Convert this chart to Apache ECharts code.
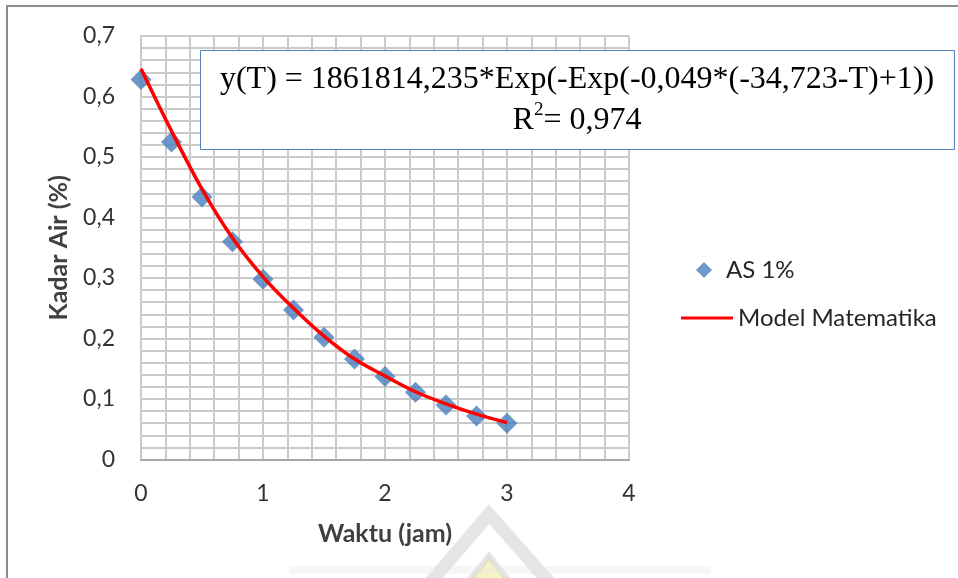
<!DOCTYPE html>
<html>
<head>
<meta charset="utf-8">
<script src="https://cdn.jsdelivr.net/npm/echarts@6/dist/echarts.min.js"></script>
<style>
  html, body { margin: 0; padding: 0; background: #ffffff; }
  #chart { width: 958px; height: 578px; }
</style>
</head>
<body>
<div id="chart"></div>
<script>
// Drying time (hours)
var waktuJam = [0, 0.25, 0.5, 0.75, 1, 1.25, 1.5, 1.75, 2, 2.25, 2.5, 2.75, 3];
// Measured moisture content, AS 1%
var kadarAirAS1 = [0.628, 0.525, 0.434, 0.360, 0.298, 0.247, 0.202, 0.166, 0.137, 0.111, 0.090, 0.072, 0.060];
// Fitted model curve
var modelMatematika = [0.646, 0.543, 0.447, 0.366, 0.302, 0.250, 0.204, 0.166, 0.138, 0.112, 0.092, 0.075, 0.061];

var xTicks = [0, 1, 2, 3, 4];
var yTicks = [0, 0.1, 0.2, 0.3, 0.4, 0.5, 0.6, 0.7];

var equationText = 'y(T) = 1861814,235*Exp(-Exp(-0,049*(-34,723-T)+1))';
var r2Value = '0,974';

function pairs(xs, ys) {
  return xs.map(function (x, i) { return [x, ys[i]]; });
}

var labelFont = 'Lato, "Open Sans", sans-serif';
var serifFont = '"Liberation Serif", "DejaVu Serif", serif';
var gridColor = '#cacaca';
var markerBlue = '#4a7ebb';
var modelRed = '#ff0000';

var chart = echarts.init(document.getElementById('chart'), null, { renderer: 'canvas' });

chart.setOption({
  backgroundColor: '#ffffff',
  animation: false,
  grid: { left: 141, top: 36, right: 329, bottom: 118.5, containLabel: false },
  xAxis: {
    type: 'value',
    min: xTicks[0],
    max: xTicks[xTicks.length - 1],
    interval: 1,
    name: 'Waktu (jam)',
    nameLocation: 'middle',
    nameGap: 62,
    nameTextStyle: { fontFamily: labelFont, fontWeight: 'bold', fontSize: 25, color: '#404040' },
    axisLine: { show: true, lineStyle: { color: '#a8a8a8', width: 2 } },
    axisTick: { show: false },
    axisLabel: { fontFamily: labelFont, fontSize: 23, color: '#333333', margin: 23 },
    splitLine: { show: true, lineStyle: { color: gridColor, width: 2 } },
    minorTick: { show: false, splitNumber: 5 },
    minorSplitLine: { show: true, lineStyle: { color: gridColor, width: 2 } }
  },
  yAxis: {
    type: 'value',
    min: yTicks[0],
    max: yTicks[yTicks.length - 1],
    interval: 0.1,
    name: 'Kadar Air (%)',
    nameLocation: 'middle',
    nameGap: 70,
    nameTextStyle: { fontFamily: labelFont, fontWeight: 'bold', fontSize: 25, color: '#404040' },
    axisLine: { show: true, lineStyle: { color: gridColor, width: 2 } },
    axisTick: { show: false },
    axisLabel: {
      fontFamily: labelFont, fontSize: 23, color: '#333333', margin: 26,
      formatter: function (v) { return v === 0 ? '0' : v.toFixed(1).replace('.', ','); }
    },
    splitLine: { show: true, lineStyle: { color: gridColor, width: 2 } },
    minorTick: { show: false, splitNumber: 5 },
    minorSplitLine: { show: true, lineStyle: { color: gridColor, width: 2 } }
  },
  legend: [
    {
      left: 691,
      top: 253,
      itemWidth: 16,
      itemHeight: 16,
      icon: 'diamond',
      textStyle: { fontFamily: labelFont, fontSize: 24, color: '#262626', padding: [0, 0, 0, 9] },
      data: ['AS 1%']
    },
    {
      left: 676,
      top: 301,
      itemWidth: 52,
      itemHeight: 3,
      icon: 'rect',
      itemStyle: { color: modelRed },
      textStyle: { fontFamily: labelFont, fontSize: 24, color: '#262626' },
      data: ['Model Matematika']
    }
  ],
  series: [
    {
      name: 'AS 1%',
      type: 'scatter',
      symbol: 'diamond',
      symbolSize: [21, 21],
      itemStyle: { color: markerBlue },
      data: pairs(waktuJam, kadarAirAS1),
      z: 3
    },
    {
      name: 'Model Matematika',
      type: 'line',
      smooth: 0.35,
      symbol: 'none',
      lineStyle: { color: modelRed, width: 3.5 },
      itemStyle: { color: modelRed },
      data: pairs(waktuJam, modelMatematika),
      z: 4
    }
  ],
  graphic: [
    // outer chart frame
    {
      type: 'rect', z: 1, silent: true,
      shape: { x: 7, y: 6, width: 980, height: 620 },
      style: { fill: 'none', stroke: '#8c8c8c', lineWidth: 2 }
    },
    // equation box
    {
      type: 'rect', z: 50,
      shape: { x: 200.5, y: 50.5, width: 754, height: 99 },
      style: { fill: '#ffffff', stroke: '#4f81bd', lineWidth: 1 }
    },
    {
      type: 'text', z: 51, x: 577, y: 80,
      style: {
        text: equationText,
        fontFamily: serifFont,
        fontSize: 32, fill: '#000000', align: 'center', verticalAlign: 'middle'
      }
    },
    {
      type: 'text', z: 51, x: 577, y: 121,
      style: {
        text: '{r|R}{s|2}{t|= ' + r2Value + '}',
        align: 'center', verticalAlign: 'middle',
        rich: {
          r: { fontFamily: serifFont, fontSize: 32, fill: '#000000', lineHeight: 34 },
          s: { fontFamily: serifFont, fontSize: 19, fill: '#000000', lineHeight: 34, padding: [0, 0, 22, 0] },
          t: { fontFamily: serifFont, fontSize: 32, fill: '#000000', lineHeight: 34 }
        }
      }
    },
    // faint emblem near the bottom edge
    {
      type: 'polyline', z: 0, silent: true,
      shape: { points: [[424, 590], [489, 514], [556, 590]] },
      style: { stroke: '#cccccc', lineWidth: 13, fill: 'none', opacity: 0.5 }
    },
    {
      type: 'polygon', z: 0, silent: true,
      shape: { points: [[462, 590], [489, 556], [516, 590]] },
      style: { fill: '#f3ee9a', stroke: '#d2d2d2', lineWidth: 6, opacity: 0.6 }
    },
    {
      type: 'rect', z: 0, silent: true,
      shape: { x: 290, y: 566, width: 420, height: 8 },
      style: { fill: '#e6e6e6', opacity: 0.35 }
    }
  ]
});
</script>
</body>
</html>
